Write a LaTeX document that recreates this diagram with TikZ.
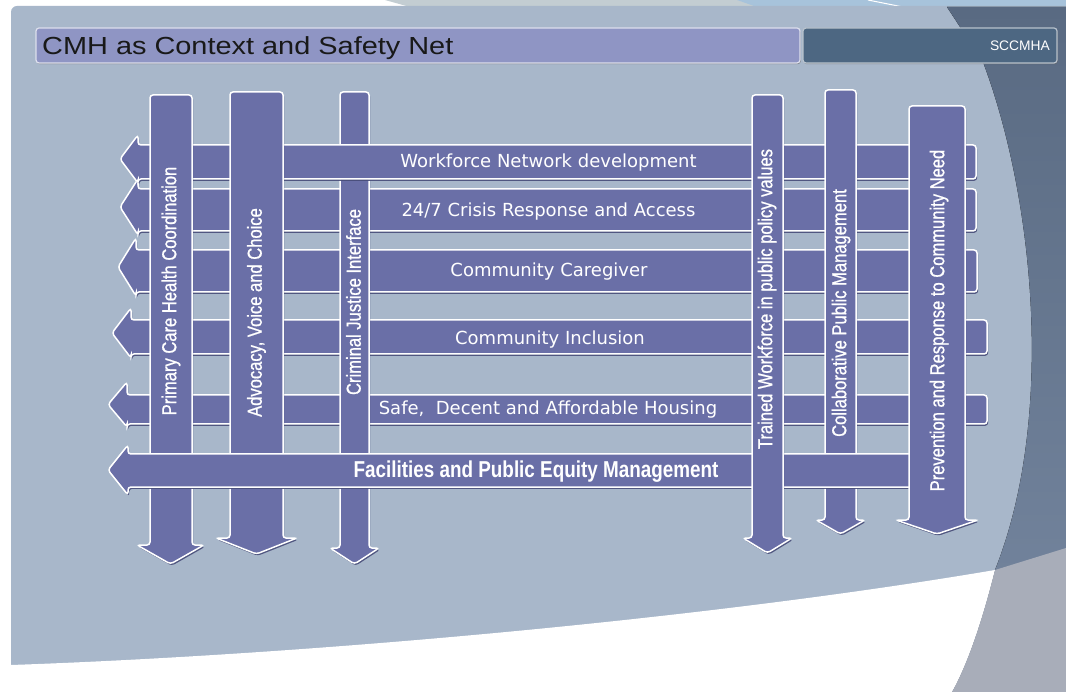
\documentclass[tikz,border=0pt]{standalone}
\usepackage{fontspec}
\setmainfont{Liberation Sans}
\newfontfamily\hfont{DejaVu Sans}
\newfontfamily\vfont[FakeStretch=0.82,FakeBold=0.8]{Liberation Sans}
\newfontfamily\bfont[FakeStretch=0.82]{Liberation Sans Bold}
\newfontfamily\tfont[FakeStretch=1.17]{Liberation Sans}
\usetikzlibrary{shadows}
\definecolor{panel}{HTML}{A8B7CA}
\definecolor{barc}{HTML}{6A6FA7}
\definecolor{shadowc}{HTML}{474C78}
\definecolor{titlec}{HTML}{8F95C4}
\definecolor{orgc}{HTML}{4D6782}
\definecolor{darkA}{HTML}{596A82}
\definecolor{darkB}{HTML}{7687A0}
\definecolor{grayR}{HTML}{A8ADB9}
\definecolor{topgray}{HTML}{C3CDD2}
\definecolor{topblue}{HTML}{A7C3DB}
\newcommand\HArr[7]{\path[bar] (#3,#4) -- (#2,#4) -- (#2,{#4-#6}) -- (#1,{((#4-#6)+(#5+#7))/2}) -- (#2,{#5+#7}) -- (#2,#5) -- (#3,#5) -- cycle;}
\newcommand\VArr[7]{\path[bar] (#1,#3) -- (#2,#3) -- (#2,#4) -- (#6,#4) -- ({(#5+#6)/2},#7) -- (#5,#4) -- (#1,#4) -- cycle;}
\tikzset{
  bar/.style={fill=barc, draw=white, line width=1.5pt, rounded corners=3pt,
    drop shadow={shadow xshift=1.2pt, shadow yshift=-1.8pt, fill=shadowc, opacity=0.9}},
  vlab/.style={rotate=90, text=white, inner sep=0pt, font=\vfont\fontsize{20.2}{22}\selectfont},
  hlab/.style={text=white, inner sep=0pt, anchor=base, font=\hfont\fontsize{18}{20}\selectfont},
  blab/.style={text=white, inner sep=0pt, anchor=base, font=\bfont\fontsize{23}{25}\selectfont},
  boxbar/.style={line width=1.2pt, rounded corners=3pt,
    drop shadow={shadow xshift=0.8pt, shadow yshift=-1.2pt, fill=black!60, opacity=0.6}}
}
\begin{document}
\begin{tikzpicture}[x=1pt,y=-1pt]
\useasboundingbox (0,0) rectangle (1066,692);
\fill[white] (0,0) rectangle (1066,692);
% top decoration
\fill[topgray] (385,0) -- (1066,0) -- (1066,7) -- (410,7) -- cycle;
\fill[topblue] (737,0) -- (1066,0) -- (1066,7) -- (757,7) -- cycle;
\draw[white, line width=1pt] (868,0) -- (903,7);
% panel
\fill[panel, rounded corners=6pt] (11,6) rectangle (1080,710);
% dark right region
\fill[top color=darkA, bottom color=darkB] (947,7) -- (983,62) .. controls (1035,200) and (1055,420) .. (995,570) .. controls (985,610) and (970,660) .. (952,692) -- (1066,692) -- (1066,7) -- cycle;
% white bottom swoosh
\fill[white] (11,665) .. controls (300,655) and (700,620) .. (995,570) .. controls (985,610) and (970,660) .. (952,692) -- (11,692) -- cycle;
\fill[grayR] (995,570) -- (1066,548) -- (1066,692) -- (952,692) .. controls (970,660) and (985,610) .. (995,570) -- cycle;
% title bars
\path[boxbar, fill=titlec, draw=white!70!titlec] (36,28) rectangle (800,63);
\node[anchor=base west, inner sep=0pt, font=\tfont\fontsize{24.7}{27}\selectfont, text=black!90] (title) at (42,54.5) {CMH as Context and Safety Net};
\path[boxbar, fill=orgc, draw=white!60!orgc] (803,28) rectangle (1057,63);
\node[anchor=base east, inner sep=0pt, text=white, font=\fontsize{13.8}{15}\selectfont] (org) at (1050,50.5) {SCCMHA};
% horizontal bars (lower layer)
\HArr{120}{138}{976}{189}{231}{10}{4}
\node[hlab] (h2) at (548.5,216.7) {24/7 Crisis Response and Access};
\HArr{118}{136}{977}{250}{292}{12}{4}
\node[hlab] (h3) at (549,276.5) {Community Caregiver};
\HArr{112}{131}{987}{320}{354}{12}{4}
\node[hlab] (h4) at (550,344.5) {Community Inclusion};
\HArr{108}{127}{987}{395}{424}{13}{3}
\node[hlab] (h5) at (548,415) {Safe,\ \ Decent and Affordable Housing};
% vertical 3
\VArr{340}{369}{92}{548}{330}{379}{564}
\node[vlab] (v3) at (353.5,302) {Criminal Justice Interface};
% horizontal 1
\HArr{120}{138}{976}{145}{179}{10}{4}
\node[hlab] (h1) at (548.5,167.7) {Workforce Network development};
% verticals
\VArr{150}{192}{95}{545}{137}{204}{564}
\node[vlab] (v1) at (171,291) {Primary Care Health Coordination};
\VArr{230}{283}{92}{538}{216}{297}{554}
\node[vlab] (v2) at (256.5,312.5) {Advocacy, Voice and Choice};
\VArr{825}{856}{90}{520}{816}{865}{534}
\node[vlab] (v5) at (841,313) {Collaborative Public Management};
% horizontal 6
\HArr{108}{128}{930}{454}{487}{9}{8}
\node[blab] (h6) at (536,477.3) {Facilities and Public Equity Management};
% top verticals
\VArr{752}{783}{95}{538}{743}{792}{553}
\node[vlab] (v4) at (767,299) {Trained Workforce in public policy values};
\VArr{909}{965}{106}{520}{896}{978}{534}
\node[vlab] (v6) at (939,320.5) {Prevention and Response to Community Need};
\end{tikzpicture}
\end{document}
